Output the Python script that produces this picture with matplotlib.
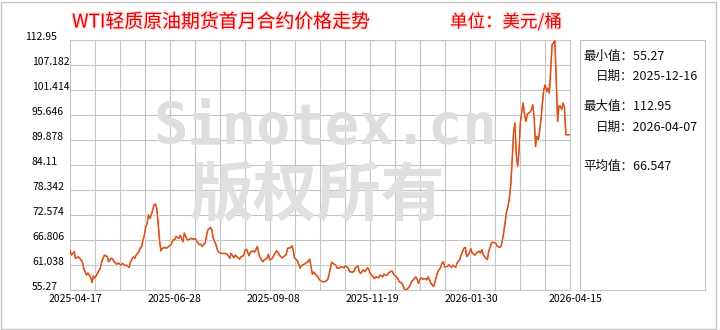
import numpy as np
import pandas as pd
import matplotlib
matplotlib.use("Agg")
import matplotlib.pyplot as plt
import matplotlib.dates as mdates
import matplotlib.patheffects as pe
from matplotlib.patches import Rectangle
from matplotlib.transforms import ScaledTranslation

plt.rcParams['font.family'] = ['Noto Sans CJK SC', 'DejaVu Sans']

# 数据：起始日期后的天数 + 价格（美元/桶）
start_date = "2025-04-17"
day_offset = [
    0, 1, 3, 4, 6, 7, 9, 10, 12, 13, 15, 16, 17, 18, 20, 22, 23, 25, 27, 28,
    30, 31, 32, 34, 35, 37, 38, 40, 41, 43, 44, 46, 47, 48, 50, 51, 52, 53, 54, 55,
    56, 57, 58, 59, 60, 61, 62, 63, 64, 65, 66, 67, 69, 70, 72, 73, 75, 76, 77, 79,
    80, 82, 83, 85, 86, 88, 89, 91, 92, 94, 95, 96, 97, 98, 99, 100, 102, 103, 104, 106,
    107, 108, 110, 112, 113, 115, 116, 117, 119, 120, 122, 123, 124, 126, 127, 128, 130, 131, 133, 134,
    136, 137, 138, 140, 141, 143, 144, 145, 147, 148, 150, 151, 152, 154, 155, 157, 158, 160, 161, 162,
    163, 165, 166, 167, 168, 170, 171, 173, 174, 175, 176, 177, 179, 180, 181, 183, 185, 187, 188, 189,
    190, 191, 193, 194, 196, 197, 199, 200, 202, 203, 205, 206, 207, 209, 210, 211, 213, 214, 216, 217,
    218, 220, 221, 222, 224, 225, 227, 228, 230, 231, 233, 234, 235, 237, 238, 239, 241, 242, 243, 245,
    247, 248, 250, 251, 252, 253, 254, 255, 256, 258, 259, 260, 261, 262, 264, 265, 266, 267, 269, 270,
    271, 272, 274, 275, 277, 278, 280, 281, 283, 284, 286, 287, 288, 290, 291, 292, 294, 295, 297, 298,
    299, 300, 302, 303, 304, 306, 307, 309, 310, 312, 313, 314, 315, 316, 317, 318, 319, 320, 321, 322,
    323, 324, 325, 326, 327, 328, 329, 330, 331, 332, 333, 334, 335, 336, 337, 338, 339, 340, 341, 342,
    343, 344, 345, 346, 347, 348, 349, 350, 351, 352, 353, 354, 355, 356, 357, 358, 359, 360, 361, 363,
]
price = [
    64.5, 63.3, 64.1, 62.6, 62.9, 62.6, 61.8, 60.2, 58.7, 59.2, 58.2, 57.0, 58.5, 58.0, 59.2, 60.3, 61.8, 63.3, 63.0, 61.8,
    62.6, 62.4, 61.8, 61.2, 61.5, 61.0, 61.4, 60.9, 61.0, 60.5, 61.8, 62.9, 62.6, 63.3, 64.1, 64.9, 65.3, 66.8, 67.9, 69.9,
    70.6, 72.6, 71.8, 72.6, 73.7, 74.9, 75.1, 74.1, 70.6, 66.8, 64.3, 64.9, 65.1, 64.9, 65.4, 65.6, 66.9, 66.8, 67.6, 67.2,
    67.9, 66.4, 68.4, 66.9, 66.8, 67.2, 67.0, 67.1, 66.5, 65.7, 65.8, 65.3, 65.8, 66.0, 67.6, 69.1, 69.7, 69.1, 67.2, 65.7,
    64.5, 64.0, 63.7, 63.7, 63.7, 63.2, 62.6, 63.7, 62.7, 63.3, 62.7, 62.4, 62.9, 63.2, 64.3, 64.7, 63.2, 64.0, 64.3, 64.0,
    65.3, 63.7, 62.7, 61.8, 62.2, 62.6, 63.5, 62.2, 62.6, 63.3, 64.3, 64.0, 63.3, 62.7, 62.9, 63.5, 64.9, 65.0, 65.5, 64.5,
    62.7, 62.0, 61.3, 60.3, 60.9, 61.2, 61.4, 61.9, 62.4, 60.6, 58.9, 59.4, 58.6, 58.3, 57.7, 57.2, 57.2, 57.6, 58.7, 60.3,
    61.7, 61.4, 61.0, 60.3, 60.4, 60.7, 60.4, 60.9, 60.3, 59.5, 59.4, 59.5, 60.3, 60.9, 59.5, 59.1, 59.9, 59.5, 60.4, 59.9,
    59.1, 58.3, 57.9, 58.3, 58.1, 58.7, 58.3, 58.9, 58.6, 59.1, 59.6, 59.6, 58.9, 58.3, 57.9, 57.2, 56.8, 56.1, 55.27, 55.5,
    56.4, 57.2, 57.9, 58.3, 57.8, 56.8, 57.6, 58.1, 57.8, 57.9, 57.6, 58.3, 57.6, 56.8, 56.1, 57.2, 58.3, 59.5, 60.4, 61.4,
    61.8, 60.6, 60.7, 61.1, 60.5, 61.0, 60.5, 61.5, 62.3, 63.4, 64.9, 65.1, 63.0, 63.8, 64.8, 63.8, 63.3, 63.8, 64.2, 63.8,
    64.6, 63.4, 62.6, 62.3, 64.2, 66.1, 66.3, 66.1, 65.4, 65.1, 65.4, 66.9, 68.8, 71.1, 73.4, 74.6, 76.5, 79.6, 85.0, 91.5,
    93.8, 86.5, 83.8, 87.5, 94.0, 96.5, 98.4, 95.7, 94.2, 95.8, 96.1, 96.3, 96.9, 98.0, 94.9, 88.4, 90.7, 89.9, 92.0, 94.9,
    98.5, 101.5, 102.6, 101.0, 101.9, 100.7, 106.0, 111.9, 112.3, 112.95, 104.0, 94.2, 97.7, 97.7, 96.9, 98.4, 97.3, 91.1, 91.1, 91.1,
]

x_labels = ["2025-04-17", "2025-06-28", "2025-09-08", "2025-11-19", "2026-01-30", "2026-04-15"]
y_labels = ["55.27", "61.038", "66.806", "72.574", "78.342", "84.11",
            "89.878", "95.646", "101.414", "107.182", "112.95"]

title = "WTI轻质原油期货首月合约价格走势"
unit = "单位：美元/桶"
min_value, min_date = "55.27", "2025-12-16"
max_value, max_date = "112.95", "2026-04-07"
avg_value = "66.547"

dates = pd.Timestamp(start_date) + pd.to_timedelta(day_offset, unit="D")

fig = plt.figure(figsize=(7.2, 3.3), dpi=100)
ax = fig.add_axes([70 / 720, 40 / 330, 500 / 720, 250 / 330])
ax.set_axisbelow(True)

grid_c = '#c4c4c4'
line_c = '#d4521f'

ax.plot(dates, price, color=line_c, lw=0.85, zorder=3,
        path_effects=[pe.withStroke(linewidth=2.2, foreground='#fdeadf'), pe.Normal()])

# x 轴：日期，竖网格 20 格
x0, x1 = pd.Timestamp(x_labels[0]), pd.Timestamp(x_labels[-1])
ax.set_xlim(x0, x1)
ax.set_xticks(np.linspace(mdates.date2num(x0), mdates.date2num(x1), 21), minor=True)
ax.set_xticks(pd.to_datetime(x_labels))
ax.set_xticklabels(x_labels, fontsize=7.5)
ax.grid(which='minor', axis='x', color=grid_c, lw=0.8)

# y 轴
y_vals = [float(v) for v in y_labels]
ax.set_ylim(y_vals[0], y_vals[-1])
ax.set_yticks(y_vals)
ax.set_yticklabels(y_labels, fontsize=7.5)
ax.grid(which='major', axis='y', color=grid_c, lw=0.8)

ax.tick_params(which='both', length=0)
ax.tick_params(axis='x', pad=3)
ax.tick_params(axis='y', pad=0)
for lbl in ax.get_xticklabels():
    lbl.set_transform(lbl.get_transform() + ScaledTranslation(0.05, 0, fig.dpi_scale_trans))
ylbls = ax.get_yticklabels()
for i, lbl in enumerate(ylbls):
    lbl.set_horizontalalignment('left')
    dx = -0.45 if i == len(ylbls) - 1 else -0.38
    lbl.set_transform(lbl.get_transform() + ScaledTranslation(dx, 0.04, fig.dpi_scale_trans))

for s in ax.spines.values():
    s.set_color(grid_c)
    s.set_linewidth(0.8)

# 水印
ax.text(325 / 720, 1 - 128 / 330, "Sinotex.cn", transform=fig.transFigure,
        family='DejaVu Sans Mono', fontweight='bold', fontsize=41, color='#dedede',
        ha='center', va='center', zorder=1, clip_on=False)
ax.text(317 / 720, 1 - 196 / 330, "版权所有", transform=fig.transFigure,
        fontsize=46, fontweight='bold', color='#e0e0e0', ha='center', va='center',
        zorder=1, clip_on=False)

# 标题
glow = [pe.withStroke(linewidth=2, foreground='#ffe2e2')]
fig.text(72 / 720, 1 - 22 / 330, title, color='#e60000', fontsize=13.6,
         ha='left', va='center', path_effects=glow)
fig.text(450 / 720, 1 - 22 / 330, unit, color='#e60000', fontsize=12.6,
         ha='left', va='center', path_effects=glow)

# 右侧统计框
fig.patches.append(Rectangle((580 / 720, 40 / 330), 125 / 720, 250 / 330,
                             transform=fig.transFigure, fill=False, ec=grid_c, lw=0.8))
info = [
    (583, 56, "最小值：" + min_value),
    (596, 76, "日期：" + min_date),
    (583, 106, "最大值：" + max_value),
    (596, 127, "日期：" + max_date),
    (583, 166, "平均值：" + avg_value),
]
for px, py, txt in info:
    fig.text(px / 720, 1 - py / 330, txt, fontsize=9, ha='left', va='center', color='#111111')

# 外框
fig.patches.append(Rectangle((1 / 720, 1 / 330), 715 / 720, 327 / 330,
                             transform=fig.transFigure, fill=False, ec=grid_c, lw=1))

fig.savefig("out.png", dpi=100)
